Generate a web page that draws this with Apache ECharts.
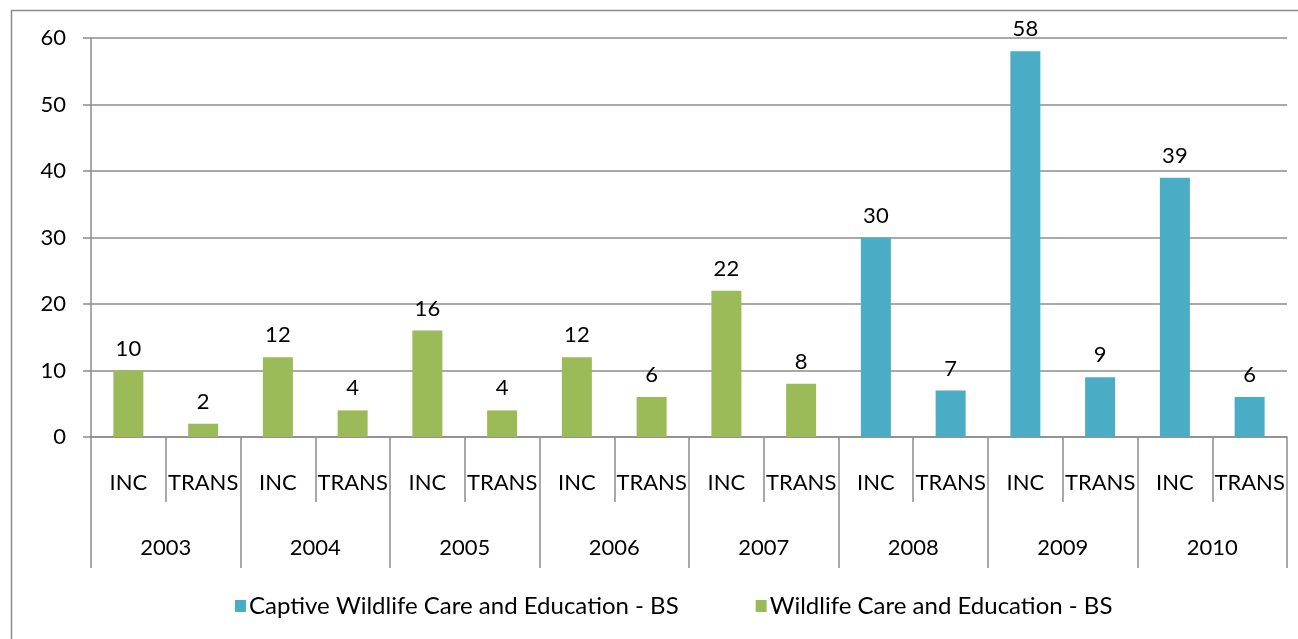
<!DOCTYPE html>
<html><head><meta charset="utf-8">
<script src="https://cdn.jsdelivr.net/npm/echarts@6/dist/echarts.min.js"></script>
<style>html,body{margin:0;padding:0;background:#fff}#c{width:1298px;height:639px}</style>
</head><body><div id="c"></div>
<script>
const subCategories = ['INC','TRANS','INC','TRANS','INC','TRANS','INC','TRANS','INC','TRANS','INC','TRANS','INC','TRANS','INC','TRANS'];
const years = ['2003','2004','2005','2006','2007','2008','2009','2010'];
const captiveName = 'Captive Wildlife Care and Education - BS';
const wildlifeName = 'Wildlife Care and Education - BS';
const captiveValues = ['-','-','-','-','-','-','-','-','-','-',30,7,58,9,39,6];
const wildlifeValues = [10,2,12,4,16,4,12,6,22,8,'-','-','-','-','-','-'];
const yTicks = [0,10,20,30,40,50,60];

const FONT = 'Lato';
const grey = '#8c8c8c';
const FS = 22;
const chart = echarts.init(document.getElementById('c'));
chart.setOption({
  animation:false,
  textStyle:{fontFamily:FONT},
  graphic:[{type:'rect',shape:{x:11.5,y:10.5,width:1290,height:640},style:{fill:null,stroke:grey,lineWidth:1.5},silent:true}],
  grid:{left:91,right:11,top:38,bottom:202},
  legend:{
    data:[captiveName,wildlifeName],
    top:594,left:235,padding:0,
    itemWidth:11,itemHeight:12,itemGap:77,
    icon:'rect',
    textStyle:{fontFamily:FONT,fontSize:24,color:'#000',padding:[0,0,0,-2]}
  },
  xAxis:[
    {type:'category',data:subCategories,position:'bottom',
     axisLine:{lineStyle:{color:grey,width:1.5}},
     axisTick:{show:true,interval:0,length:65,lineStyle:{color:grey,width:1.5}},
     axisLabel:{interval:0,margin:35,color:'#000',fontSize:FS,fontFamily:FONT}},
    {type:'category',data:years,position:'bottom',
     axisLine:{show:false},
     axisTick:{show:true,interval:0,length:131,lineStyle:{color:grey,width:1.5}},
     axisLabel:{interval:0,margin:100,color:'#000',fontSize:FS,fontFamily:FONT}}
  ],
  yAxis:{type:'value',min:yTicks[0],max:yTicks[yTicks.length-1],interval:10,
    axisLine:{show:true,lineStyle:{color:grey,width:1.5}},
    axisTick:{show:true,length:8,lineStyle:{color:grey,width:1.5}},
    splitLine:{lineStyle:{color:grey,width:1.5}},
    axisLabel:{margin:25,color:'#000',fontSize:FS,fontFamily:FONT}},
  series:[
    {name:captiveName,type:'bar',stack:'s',xAxisIndex:0,data:captiveValues,barWidth:30,
     itemStyle:{color:'#4BACC6'},
     label:{show:true,position:'top',distance:11,color:'#000',fontSize:FS,fontFamily:FONT}},
    {name:wildlifeName,type:'bar',stack:'s',xAxisIndex:0,data:wildlifeValues,barWidth:30,
     itemStyle:{color:'#9BBB59'},
     label:{show:true,position:'top',distance:11,color:'#000',fontSize:FS,fontFamily:FONT}}
  ]
});
</script></body></html>
